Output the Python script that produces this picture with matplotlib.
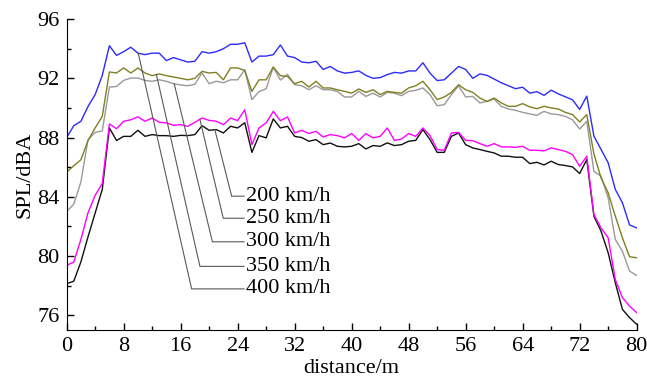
import numpy as np
import matplotlib.pyplot as plt

plt.rcParams['font.family'] = ['Liberation Serif', 'DejaVu Serif']

# distance along the line, m
distance = np.arange(0, 81)

# SPL values (dBA) for each train speed
spl_200 = [78.13, 78.3, 79.6, 81.3, 82.9, 84.5, 88.65, 87.8, 88.08, 88.08,
           88.49, 88.08, 88.2, 88.13, 88.13, 88.08, 88.15, 88.13, 88.2, 88.8,
           88.49, 88.54, 88.31, 88.76, 88.65, 89.0, 87.0, 88.13, 87.98, 89.26,
           88.65, 88.76, 88.08, 88.0, 87.75, 87.86, 87.52, 87.63, 87.41, 87.37,
           87.41, 87.59, 87.23, 87.46, 87.41, 87.64, 87.46, 87.52, 87.75, 87.81,
           88.54, 87.86, 87.0, 87.0, 88.08, 88.31, 87.52, 87.3, 87.19, 87.07,
           86.96, 86.74, 86.74, 86.67, 86.67, 86.24, 86.33, 86.15, 86.4, 86.18,
           86.11, 86.02, 85.57, 86.51, 82.69, 81.68, 80.22, 78.2, 76.4, 75.84,
           75.39]
spl_250 = [79.37, 79.59, 81.12, 82.92, 84.1, 84.9, 88.92, 88.6, 89.1, 89.2,
           89.4, 89.1, 89.32, 89.03, 88.99, 88.83, 88.87, 88.76, 89.03, 89.32,
           89.16, 89.1, 88.87, 89.32, 89.14, 89.88, 87.52, 88.65, 88.99, 89.77,
           89.14, 89.39, 88.31, 88.49, 88.27, 88.42, 88.04, 88.2, 88.13, 87.98,
           88.27, 87.81, 88.27, 87.98, 88.08, 88.65, 87.81, 87.9, 88.27, 88.08,
           88.65, 88.13, 87.19, 87.14, 88.31, 88.35, 87.81, 87.79, 87.59, 87.41,
           87.59, 87.37, 87.37, 87.34, 87.41, 87.14, 87.14, 87.1, 87.3, 87.19,
           87.07, 86.85, 86.06, 86.74, 82.8, 81.9, 81.23, 78.42, 77.19, 76.62,
           76.18]
spl_300 = [83.0, 83.5, 85.0, 87.86, 88.35, 88.45, 91.41, 91.45, 91.86, 92.02,
           92.02, 91.86, 91.8, 91.9, 91.8, 91.64, 91.55, 91.5, 91.6, 92.36,
           91.64, 91.8, 91.7, 91.9, 91.9, 92.58, 90.56, 91.1, 91.3, 92.75,
           91.88, 92.27, 91.57, 91.5, 91.23, 91.5, 91.23, 91.23, 91.12, 90.74,
           90.74, 91.12, 90.78, 91.0, 90.74, 91.05, 91.0, 90.83, 91.12, 91.19,
           91.35, 90.9, 90.15, 90.22, 90.9, 91.5, 90.74, 90.78, 90.34, 90.44,
           90.6, 90.11, 89.93, 89.84, 89.7, 89.6, 89.5, 89.77, 89.6, 89.55,
           89.43, 89.2, 88.58, 89.1, 85.72, 85.39, 83.93, 81.12, 80.33, 78.98,
           78.69]
spl_350 = [85.66, 86.1, 86.5, 87.8, 88.65, 89.43, 92.43, 92.36, 92.7, 92.36,
           92.7, 92.36, 92.18, 92.3, 92.18, 92.09, 92.0, 91.9, 92.0, 92.47,
           92.36, 92.4, 91.9, 92.7, 92.7, 92.53, 91.12, 91.9, 91.9, 92.76,
           92.18, 92.13, 91.64, 91.8, 91.41, 91.8, 91.35, 91.35, 91.23, 91.12,
           91.0, 91.28, 91.05, 91.23, 90.9, 91.12, 91.05, 91.0, 91.35, 91.5,
           91.8, 91.23, 90.56, 90.74, 91.05, 91.57, 91.23, 91.05, 90.67, 90.44,
           90.67, 90.34, 90.11, 90.11, 90.29, 90.07, 89.95, 90.11, 90.0, 89.93,
           89.7, 89.55, 89.05, 89.55, 86.9, 85.28, 84.27, 82.7, 81.23, 79.95,
           79.88]
spl_400 = [88.0, 88.8, 89.1, 90.1, 90.9, 92.2, 94.2, 93.55, 93.8, 94.1,
           93.7, 93.6, 93.7, 93.7, 93.2, 93.4, 93.25, 93.1, 93.15, 93.8,
           93.7, 93.8, 94.0, 94.3, 94.3, 94.4, 93.1, 93.5, 93.5, 93.6,
           94.25, 93.5, 93.4, 93.1, 93.05, 93.15, 92.6, 92.8, 92.5, 92.35,
           92.4, 92.5, 92.2, 92.0, 92.05, 92.25, 92.4, 92.35, 92.5, 92.5,
           93.05, 92.35, 91.85, 91.9, 92.35, 92.8, 92.6, 92.0, 92.3, 92.2,
           91.95, 91.7, 91.5, 91.3, 91.4, 91.0, 91.1, 90.85, 91.2, 90.95,
           90.75, 90.55, 89.9, 90.8, 88.1, 87.2, 86.3, 84.5, 83.6, 82.1,
           81.9]

labels = ["200 km/h", "250 km/h", "300 km/h", "350 km/h", "400 km/h"]
series = [spl_200, spl_250, spl_300, spl_350, spl_400]
colors = ["#111111", "#ff00ff", "#999999", "#808022", "#2b2bff"]

fig = plt.figure(figsize=(6.47, 3.82), dpi=100)
ax = fig.add_axes([0.103, 0.136, 0.881, 0.814])

for s, c in zip(series, colors):
    ax.plot(distance, s, color=c, lw=1.0)

# leader lines: start on curve -> corner -> horizontal to label
leader_x = [20.8, 18.7, 15.1, 12.6, 10.05]
corner_x = [23.16, 21.98, 20.46, 18.71, 17.54]
label_y = [84.04, 82.55, 80.96, 79.3, 77.78]
for lx, cx, ly, s, lab in zip(leader_x, corner_x, label_y, series, labels):
    top_y = np.interp(lx, distance, s)
    ax.plot([lx, cx, 24.9], [top_y, ly, ly], color="0.35", lw=0.8)
    ax.text(25.15, ly, lab, fontsize=16, va="center", ha="left")

ax.set_xlim(0, 80)
ax.set_ylim(75, 96)
ax.set_xticks(np.arange(0, 81, 8))
ax.set_xticks(np.arange(0, 81, 4), minor=True)
ax.set_yticks(np.arange(76, 97, 4))
ax.set_yticks(np.arange(76, 97, 2), minor=True)
ax.tick_params(direction="in", labelsize=16, length=5, width=1, pad=5)
ax.tick_params(which="minor", direction="in", length=3, width=1)
ax.spines["top"].set_visible(False)
ax.spines["right"].set_visible(False)
ax.set_xlabel("distance/m", fontsize=16, labelpad=2)
ax.set_ylabel("SPL/dBA", fontsize=16, labelpad=2)

fig.savefig("out.png", dpi=100)
